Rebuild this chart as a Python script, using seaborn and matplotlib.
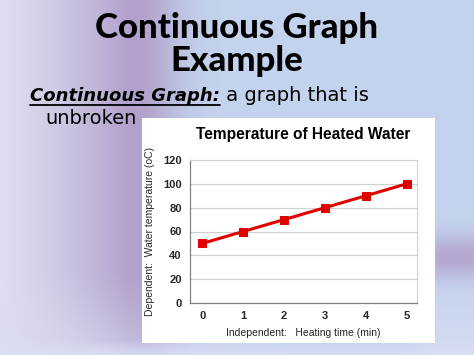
import numpy as np
import pandas as pd
import matplotlib
matplotlib.use("Agg")
import matplotlib.pyplot as plt
import seaborn as sns

# ---- data ----
heating_time = [0, 1, 2, 3, 4, 5]
water_temp = [50, 60, 70, 80, 90, 100]
y_ticks = [0, 20, 40, 60, 80, 100, 120]

slide_title = ["Continuous Graph", "Example"]
def_term = "Continuous Graph:"
def_text = " a graph that is"
def_text2 = "unbroken"
chart_title = "Temperature of Heated Water"
x_label = "Independent:   Heating time (min)"
y_label = "Dependent:  Water temperature (oC)"

sns.set_theme(style="white")
plt.rcParams["font.family"] = ["Liberation Sans", "DejaVu Sans"]

W, H = 474, 355
fig = plt.figure(figsize=(W / 100, H / 100), dpi=100)

# ---- slide background gradient ----
bg = fig.add_axes([0, 0, 1, 1])
xx, yy = np.meshgrid(np.arange(W, dtype=float), np.arange(H, dtype=float))
blue = np.array([0.77, 0.83, 0.93])
light = np.array([0.87, 0.87, 0.94])
purple = np.array([0.70, 0.63, 0.80])
img = np.ones((H, W, 3)) * blue
ramp = np.where(xx < 130, np.clip(xx / 130.0, 0, 1) ** 1.3,
                np.exp(-((xx - 130) / 65.0) ** 2))
leftcol = np.where((xx < 130)[..., None], light * (1 - ramp[..., None]) + purple * ramp[..., None],
                   blue * (1 - ramp[..., None]) + purple * ramp[..., None])
wl = np.clip(1 - (xx - 150) / 80.0, 0, 1)[..., None]
img = img * (1 - wl) + leftcol * wl
img = np.where((xx < 130)[..., None], leftcol, img)
diag = np.clip((yy - 270) / 90.0, 0, 1) * np.clip(1 - xx / 220.0 + (yy - 270) / 200.0, 0, 1)
img = img * (1 - diag[..., None] * 0.75) + np.array([0.85, 0.86, 0.94]) * diag[..., None] * 0.75
wr = (np.exp(-((yy - 257) / 22.0) ** 2) * np.clip((xx - 400) / 40.0, 0, 1))[..., None] * 0.85
img = img * (1 - wr) + purple * wr
lowr = (np.clip((yy - 275) / 60.0, 0, 1) * np.clip((xx - 400) / 40.0, 0, 1))[..., None] * 0.5
img = img * (1 - lowr) + np.array([0.86, 0.88, 0.96]) * lowr
bot = np.array([0.86, 0.88, 0.96])
wb = np.clip((yy - 340) / 15.0, 0, 1)[..., None] * 0.8
img = img * (1 - wb) + bot * wb
bg.imshow(np.clip(img, 0, 1), extent=[0, W, H, 0], aspect="auto")
bg.set_xlim(0, W)
bg.set_ylim(H, 0)
bg.axis("off")

# ---- slide text ----
bg.text(237, 28, slide_title[0], ha="center", va="center", fontsize=25,
        fontweight="black", family=["Lato", "DejaVu Sans"], color="black")
bg.text(237, 61, slide_title[1], ha="center", va="center", fontsize=25,
        fontweight="black", family=["Lato", "DejaVu Sans"], color="black")
t1 = bg.text(30, 101, def_term, ha="left", va="baseline", fontsize=13,
             fontweight="bold", fontstyle="italic", family=["DejaVu Sans"], color="black")
fig.canvas.draw()
bb = t1.get_window_extent()
x_end = bb.x1
bg.plot([30, x_end], [105, 105], color="black", lw=1.3)
bg.text(x_end, 101, def_text, ha="left", va="baseline", fontsize=14,
        family=["DejaVu Sans"], color="black")
bg.text(45, 124, def_text2, ha="left", va="baseline", fontsize=14,
        family=["DejaVu Sans"], color="black")

# white chart box
bg.add_patch(plt.Rectangle((142, 118), 293, 225, facecolor="white", edgecolor="none"))
bg.text(303, 135, chart_title, ha="center", va="center", fontsize=11.2,
        fontweight="bold", color="black")

# ---- chart ----
ax = fig.add_axes([190 / W, 1 - 303 / H, 227 / W, 143 / H])
df = pd.DataFrame({"time": heating_time, "temp": water_temp})
sns.lineplot(data=df, x="time", y="temp", ax=ax, color="#e00000", lw=2.2,
             marker="s", markersize=6, markeredgecolor="#e00000")
ax.set_xlim(-0.3, 5.25)
ax.set_ylim(0, 120)
ax.set_yticks(y_ticks)
ax.set_xticks(heating_time)
ax.yaxis.grid(True, color="#d0d0d0", lw=0.8)
ax.set_axisbelow(True)
for s in ["top", "right"]:
    ax.spines[s].set_color("#d0d0d0")
    ax.spines[s].set_linewidth(0.8)
for s in ["left", "bottom"]:
    ax.spines[s].set_color("#808080")
    ax.spines[s].set_linewidth(0.9)
ax.tick_params(axis="both", labelsize=8, length=0, pad=6)
for lab in ax.get_xticklabels() + ax.get_yticklabels():
    lab.set_fontweight("bold")
ax.set_xlabel(x_label, fontsize=7.5, labelpad=5)
ax.set_ylabel(y_label, fontsize=7.5, labelpad=6)

fig.savefig("out.png", dpi=100)
